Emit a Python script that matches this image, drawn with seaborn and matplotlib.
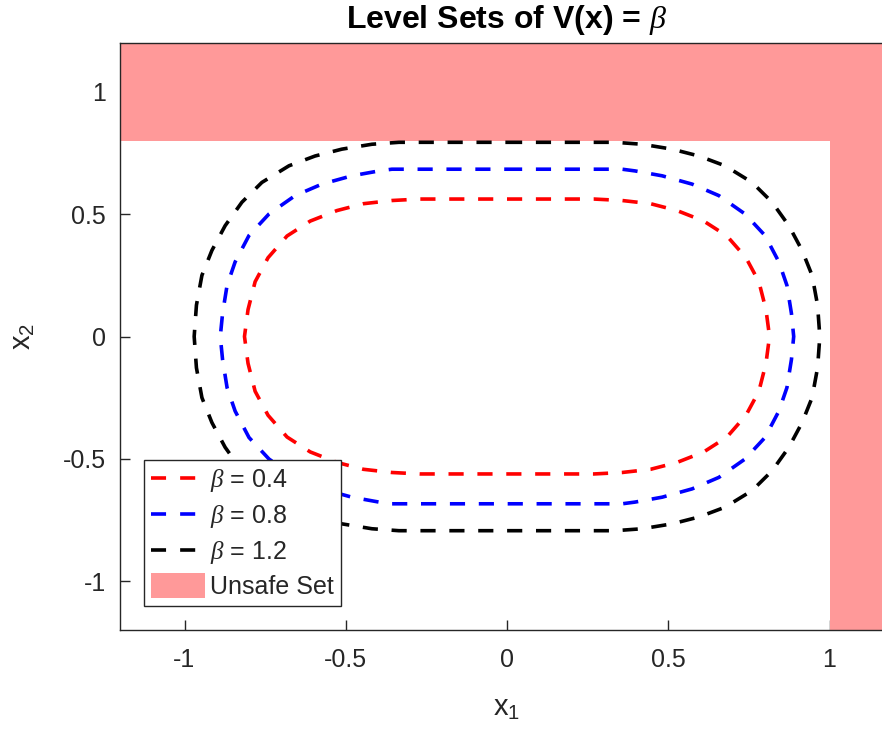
import numpy as np
import pandas as pd
import matplotlib
matplotlib.use("Agg")
import matplotlib.pyplot as plt
from matplotlib.lines import Line2D
from matplotlib.patches import Patch, Rectangle
from matplotlib.legend_handler import HandlerPatch
import seaborn as sns

# Level values and their colours
betas = [0.4, 0.8, 1.2]
colors = ["#ff0000", "#0000ff", "#000000"]

# First-quadrant samples of each level curve (x1, x2); the curves are
# symmetric about both axes, so the other quadrants are mirrored copies.
q_x1_04 = [0.000, 0.270, 0.357, 0.445, 0.527, 0.610, 0.682, 0.741, 0.781, 0.803, 0.814]
q_x2_04 = [0.562, 0.562, 0.556, 0.543, 0.515, 0.472, 0.411, 0.322, 0.224, 0.110, 0.000]

q_x1_08 = [0.000, 0.357, 0.397, 0.481, 0.574, 0.657, 0.738, 0.800, 0.843, 0.868, 0.882, 0.889]
q_x2_08 = [0.684, 0.684, 0.677, 0.657, 0.623, 0.576, 0.501, 0.413, 0.305, 0.209, 0.094, 0.000]

q_x1_12 = [0.000, 0.335, 0.419, 0.512, 0.595, 0.676, 0.760, 0.822, 0.874, 0.915, 0.946, 0.963, 0.970]
q_x2_12 = [0.794, 0.794, 0.786, 0.766, 0.738, 0.698, 0.630, 0.549, 0.453, 0.352, 0.250, 0.128, 0.000]

quadrants = [(q_x1_04, q_x2_04), (q_x1_08, q_x2_08), (q_x1_12, q_x2_12)]

# Unsafe set: x2 >= 0.8 or x1 >= 1
unsafe_x1_min = 1.0
unsafe_x2_min = 0.8
lim = 1.2

x_ticks = [-1, -0.5, 0, 0.5, 1]
y_ticks = [-1, -0.5, 0, 0.5, 1]
x_ticklabels = ["-1", "-0.5", "0", "0.5", "1"]
y_ticklabels = ["-1", "-0.5", "0", "0.5", "1"]


def closed_curve(qx, qy):
    qx = np.asarray(qx)
    qy = np.asarray(qy)
    x = np.concatenate([qx, qx[::-1], -qx, -qx[::-1]])
    y = np.concatenate([qy, -qy[::-1], -qy, qy[::-1]])
    return x, y


frames = []
for b, (qx, qy) in zip(betas, quadrants):
    x, y = closed_curve(qx, qy)
    frames.append(pd.DataFrame({"x1": x, "x2": y, "beta": b, "order": np.arange(len(x))}))
df = pd.concat(frames, ignore_index=True)

sns.set_theme(style="white")
plt.rcParams["font.family"] = ["Liberation Sans", "DejaVu Sans"]
plt.rcParams["mathtext.fontset"] = "custom"
plt.rcParams["mathtext.rm"] = "Liberation Sans"
plt.rcParams["mathtext.it"] = "Liberation Serif:italic"
plt.rcParams["mathtext.bf"] = "Liberation Sans:bold"

edge = "#262626"
pink = "#ff9999"
fig = plt.figure(figsize=(8.82, 7.34), dpi=100)
ax = fig.add_axes([120 / 882, 104 / 734, 774 / 882, 587 / 734])

# Unsafe region as a single L-shaped patch
ux = [-lim, unsafe_x1_min, unsafe_x1_min, lim, lim, -lim]
uy = [unsafe_x2_min, unsafe_x2_min, -lim, -lim, lim, lim]
ax.fill(ux, uy, color=pink, lw=0, zorder=1)

lw = 2.6
dash = (4.2, 3.8)
for b, c in zip(betas, colors):
    sub = df[df["beta"] == b]
    sns.lineplot(data=sub, x="x1", y="x2", sort=False, estimator=None,
                 color=c, lw=lw, ax=ax, zorder=3)
    ax.lines[-1].set_dashes(dash)

ax.set_xlim(-lim, lim)
ax.set_ylim(-lim, lim)
ax.set_xticks(x_ticks)
ax.set_xticklabels(x_ticklabels)
ax.set_yticks(y_ticks)
ax.set_yticklabels(y_ticklabels)

ax.tick_params(axis="both", direction="in", length=7, width=1.0, color=edge,
               labelcolor=edge, labelsize=18, top=True, right=True,
               bottom=True, left=True)
ax.tick_params(axis="x", pad=13)
ax.tick_params(axis="y", pad=10)
for s in ax.spines.values():
    s.set_color(edge)
    s.set_linewidth(1.0)
    s.set_zorder(5)

ax.set_xlabel(r"$\mathrm{x}_1$", fontsize=21, color=edge, labelpad=16)
ax.set_ylabel(r"$\mathrm{x}_2$", fontsize=21, color=edge, labelpad=19)
ax.set_title(r"Level Sets of V(x) = $\beta$", fontsize=23, fontweight="bold",
             color="#000000", pad=11)


def tall_patch(legend, orig_handle, xdescent, ydescent, width, height, fontsize):
    extra = 0.2 * height
    return Rectangle((-xdescent, -ydescent - extra), width, height + 2 * extra)


handles = [Line2D([0], [0], color=c, lw=lw, dashes=(4.17, 3.9)) for c in colors]
unsafe_handle = Patch(facecolor=pink, edgecolor="none")
handles.append(unsafe_handle)
labels = [rf"$\beta$ = {b}" for b in betas] + ["Unsafe Set"]
leg = ax.legend(handles, labels, loc="lower left",
                bbox_to_anchor=(24 / 774, 24 / 587), fontsize=18,
                frameon=True, fancybox=False, framealpha=1, edgecolor=edge,
                borderpad=0.28, handlelength=2.16, handletextpad=0.2,
                labelspacing=0.36, borderaxespad=0,
                handler_map={unsafe_handle: HandlerPatch(patch_func=tall_patch)})
leg.get_frame().set_linewidth(1.0)
leg.set_zorder(6)

fig.savefig("out.png", dpi=100)
